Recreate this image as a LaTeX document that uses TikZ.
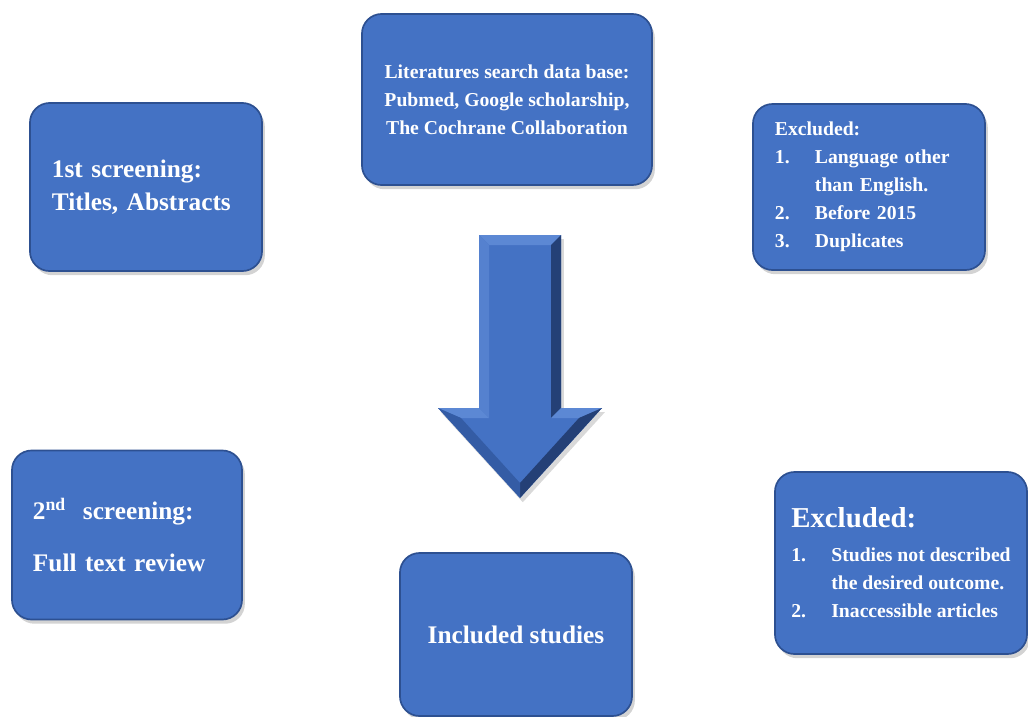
\documentclass[tikz,border=0pt]{standalone}
\usepackage{fontspec}
\setmainfont{Liberation Serif}
\usepackage{tikz}
\usetikzlibrary{shadows}
\definecolor{boxblue}{RGB}{68,114,196}
\definecolor{boxedge}{RGB}{45,80,145}
\definecolor{bevdark}{RGB}{36,64,118}
\definecolor{bevmid}{RGB}{52,92,165}
\definecolor{bevlight}{RGB}{92,136,212}

\begin{document}
\begin{tikzpicture}[x=.025cm,y=-.025cm,
  stepbox/.style={draw=boxedge,line width=1.2pt,fill=boxblue,rounded corners=14pt,
    text=white,inner ysep=0pt,
    drop shadow={shadow xshift=2pt,shadow yshift=-3pt,opacity=.35}},
  midtext/.style={font=\bfseries\fontsize{14}{20}\selectfont},
  bigtext/.style={font=\bfseries\fontsize{18}{23.5}\selectfont}]
\useasboundingbox (0,0) rectangle (1028,717);

% boxes
\node[stepbox,midtext,align=center,minimum width=7.25cm,minimum height=4.275cm] (search) at (507,99.5)
  {Literatures search data base:\\Pubmed, Google scholarship,\\The Cochrane Collaboration};
\node[stepbox,bigtext,align=left,inner xsep=.55cm,text width=4.7cm,minimum height=4.2cm] (screen1) at (146,187)
  {1st screening:\\Titles, Abstracts};
\node[stepbox,midtext,align=left,inner xsep=.55cm,text width=4.7cm,minimum height=4.15cm] (excl1) at (869,187)
  {Excluded:\\\makebox[1cm][l]{1.}Language other\\\hspace*{1cm}than English.\\\makebox[1cm][l]{2.}Before 2015\\\makebox[1cm][l]{3.}Duplicates};
\node[stepbox,bigtext,align=left,inner xsep=.525cm,text width=4.7cm,minimum height=4.225cm] (screen2) at (127,535)
  {2\textsuperscript{nd}\ \ screening:\\[14pt]Full text review};
\node[stepbox,midtext,align=left,inner xsep=0pt,minimum width=6.3cm,minimum height=4.55cm] (excl2) at (901,563)
  {{\fontsize{20.5}{24}\selectfont Excluded:}\\[4pt]\makebox[1cm][l]{1.}Studies not described\\\hspace*{1cm}the desired outcome.\\\makebox[1cm][l]{2.}Inaccessible articles};
\node[stepbox,bigtext,align=center,minimum width=5.8cm,minimum height=4.075cm] (included) at (516,634.5)
  {Included studies};

% block arrow
\fill[boxblue,drop shadow={shadow xshift=2pt,shadow yshift=-3pt,opacity=.3}]
  (479,235) -- (561,235) -- (561,408) -- (602,408) -- (520,498) -- (438,408) -- (479,408) -- cycle;
\fill[bevlight] (479,235) -- (561,235) -- (551,245) -- (489,245) -- cycle;
\fill[bevlight!70!boxblue] (479,235) -- (479,408) -- (489,418) -- (489,245) -- cycle;
\fill[bevdark] (561,235) -- (561,408) -- (551,418) -- (551,245) -- cycle;
\fill[bevlight] (561,408) -- (602,408) -- (579,418) -- (551,418) -- cycle;
\fill[bevlight] (479,408) -- (438,408) -- (461,418) -- (489,418) -- cycle;
\fill[bevdark] (602,408) -- (520,498) -- (520,483) -- (579,418) -- cycle;
\fill[bevmid] (438,408) -- (520,498) -- (520,483) -- (461,418) -- cycle;
\end{tikzpicture}
\end{document}
